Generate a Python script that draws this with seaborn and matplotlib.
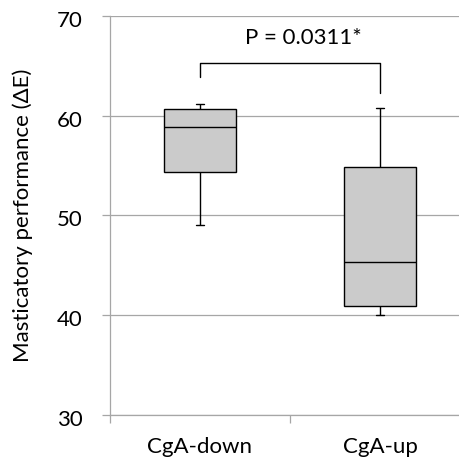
import numpy as np
import pandas as pd
import matplotlib
matplotlib.use("Agg")
import matplotlib.pyplot as plt
import matplotlib.transforms as mtransforms
import seaborn as sns

# ---- data ----
groups = ["CgA-down", "CgA-up"]
# five-number summaries: min, Q1, median, Q3, max
down_values = [49.0, 54.4, 58.9, 60.7, 61.2]
up_values = [40.0, 40.9, 45.3, 54.9, 60.8]
y_ticks = [30, 40, 50, 60, 70]
ylabel = "Masticatory performance (ΔE)"
p_label = "P = 0.0311*"
bracket_x = [0, 0, 1, 1]
bracket_y = [63.9, 65.3, 65.3, 62.3]

df = pd.DataFrame({
    "group": [groups[0]] * len(down_values) + [groups[1]] * len(up_values),
    "value": down_values + up_values,
})

sns.set_style("white")
plt.rcParams["font.family"] = ["Lato", "DejaVu Sans"]

GRID = "#a6a6a6"
FS = 16

fig = plt.figure(figsize=(4.59, 4.59), dpi=100)
ax = fig.add_axes([110 / 459, 44 / 459, 360 / 459, 399 / 459])

sns.boxplot(data=df, x="group", y="value", order=groups, ax=ax,
            width=0.4, whis=np.inf, color="#cbcbcb", saturation=1,
            linecolor="black", linewidth=1.0, capwidths=0.045,
            zorder=3)
for p in ax.patches:
    p.set_facecolor("#cbcbcb")
    p.set_edgecolor("black")

ax.plot(bracket_x, bracket_y, color="black", lw=1.0, zorder=4)
ax.text(0.576, 67.2, p_label, ha="center", va="baseline", fontsize=FS,
        color="black")

ax.set_xlim(-0.5, 1.5)
ax.set_ylim(30, 70)
ax.set_yticks(y_ticks)
ax.yaxis.grid(True, color=GRID, lw=0.9, zorder=0)
ax.xaxis.grid(False)
ax.set_axisbelow(True)

for s in ["top", "right"]:
    ax.spines[s].set_visible(False)
for s in ["left", "bottom"]:
    ax.spines[s].set_color(GRID)
    ax.spines[s].set_linewidth(0.9)

ax.tick_params(axis="y", which="major", length=5.5, width=0.9, color=GRID,
               direction="out", pad=14, labelsize=FS, labelcolor="black",
               left=True)
ax.set_xticks([0, 1])
ax.set_xticklabels(groups)
ax.set_xticks([-0.5, 0.5, 1.5], minor=True)
ax.tick_params(axis="x", which="major", length=0, pad=16, labelsize=FS,
               labelcolor="black")
ax.tick_params(axis="x", which="minor", length=5.8, width=0.9, color=GRID,
               direction="out", bottom=True)

shift = mtransforms.ScaledTranslation(0, -3 / 100, fig.dpi_scale_trans)
for lab in ax.get_yticklabels():
    lab.set_transform(lab.get_transform() + shift)

ax.set_xlabel("")
ax.set_ylabel(ylabel, fontsize=FS, color="black")
ax.yaxis.set_label_coords(-0.214, 0.5)

fig.savefig("out.png", dpi=100)
